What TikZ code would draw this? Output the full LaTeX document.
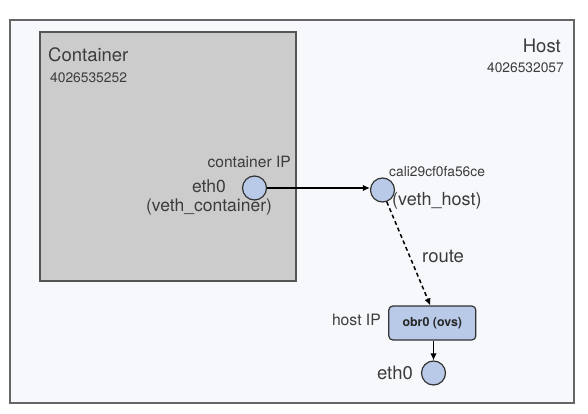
\documentclass[tikz,border=0pt]{standalone}
\usepackage{fontspec}
\setmainfont{TeX Gyre Heros}
\usepackage{tikz}
\usetikzlibrary{positioning, arrows.meta}

\definecolor{hostfill}{HTML}{F7F8FC}
\definecolor{hostline}{HTML}{666666}
\definecolor{ctrfill}{HTML}{CCCCCC}
\definecolor{ctrline}{HTML}{555555}
\definecolor{iffill}{HTML}{B8CAE8}
\definecolor{ifline}{HTML}{333333}
\definecolor{txt}{HTML}{3C3C3C}

\tikzset{
    iface/.style={circle, draw=ifline, fill=iffill, line width=1.2pt, minimum size=24pt, inner sep=0pt},
    lbl/.style={inner sep=0pt, text=txt, font=\fontsize{#1}{#1}\selectfont},
    lbl/.default=17.5
}

\begin{document}
\begin{tikzpicture}[x=1pt, y=-1pt]
    \useasboundingbox (0,0) rectangle (588,414);

    % boxes
    \node (host) at (292,211.5)[draw=hostline, fill=hostfill, line width=1.4pt, minimum width=564pt, minimum height=383pt, inner sep=0pt] {};
    \node (ctr) at (168,156.5)[draw=ctrline, fill=ctrfill, line width=1.2pt, minimum width=256pt, minimum height=249pt, inner sep=0pt] {};

    % labels
    \node at (48,55)[lbl=18.5, anchor=west] {Container};
    \node at (50,78)[lbl=13.8, anchor=west] {4026535252};
    \node at (561,46)[lbl=18.5, anchor=east] {Host};
    \node at (564,68)[lbl=13.8, anchor=east] {4026532057};

    % Nodes
    \node (ceth) at (254.5,188)[iface] {};
    \node (cali) at (382.5,190)[iface] {};
    \node (obr) at (432.3,323)[draw=ifline, fill=iffill, line width=1.2pt, rounded corners=4pt, minimum width=87pt, minimum height=34pt, inner sep=0pt, font=\bfseries\fontsize{12.4}{12.4}\selectfont, text=black!85] {obr0 (ovs)};
    \node (heth) at (433.5,373)[iface] {};

    \node at (291,162)[lbl=15.6, anchor=east] {container IP};
    \node at (209,197.5)[lbl, align=center] {eth0\\[1.5pt](veth\_container)};
    \node at (389,172)[lbl=13.8, anchor=west] {cali29cf0fa56ce};
    \node at (392,201)[lbl=18, anchor=west] {(veth\_host)};
    \node at (422,256)[lbl=18.5, anchor=west] {route};
    \node at (381,320)[lbl=15.7, anchor=east] {host IP};
    \node at (413,373)[lbl=18.5, anchor=east] {eth0};

    % edges
    \draw[->, >={Latex[length=7pt, width=6.5pt]}, line width=1.5pt] (ceth.east) -- (ceth.east -| cali.west);
    \draw[->, >={Latex[length=7pt, width=6.5pt]}, line width=1.5pt, dash pattern=on 4pt off 3pt] (cali.-70) -- ([xshift=-2pt]obr.north);
    \draw[->, >={Latex[length=7pt, width=6.5pt]}, line width=1.5pt] (obr.south -| heth) -- (heth.north);

\end{tikzpicture}
\end{document}
